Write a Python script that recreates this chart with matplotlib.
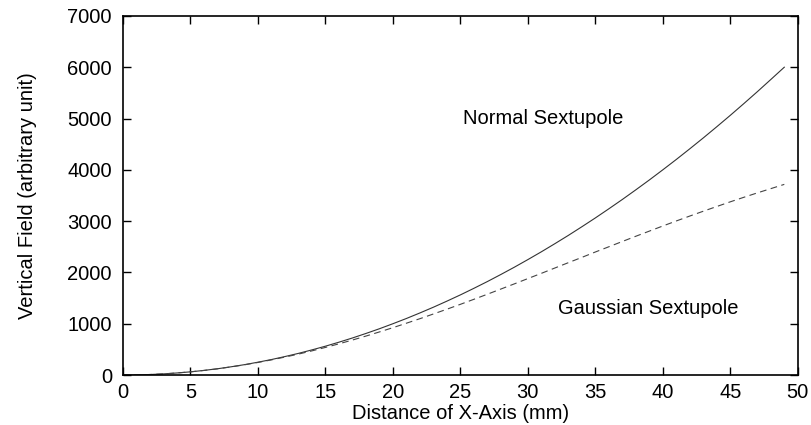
import matplotlib
matplotlib.use('Agg')
import matplotlib.pyplot as plt

plt.rcParams['font.family'] = ['Liberation Sans', 'DejaVu Sans']

# distance along x axis (mm)
x_mm = list(range(0, 50))

# normal sextupole field
normal = [0, 2.5, 10, 22, 40, 62, 90, 122, 160, 202,
          250, 302, 360, 422, 490, 562, 640, 722, 810, 902,
          1000, 1102, 1210, 1322, 1440, 1562, 1690, 1822, 1960, 2102,
          2250, 2402, 2560, 2722, 2890, 3062, 3240, 3422, 3610, 3802,
          4000, 4202, 4410, 4622, 4840, 5062, 5290, 5522, 5760, 6000]

# gaussian sextupole field
gaussian = [0, 2.5, 10, 22, 40, 62, 89, 121, 158, 199,
            245, 295, 350, 408, 471, 538, 608, 682, 759, 840,
            923, 1010, 1098, 1190, 1283, 1378, 1476, 1575, 1676, 1777,
            1880, 1982, 2086, 2190, 2293, 2398, 2500, 2603, 2705, 2805,
            2905, 3003, 3099, 3193, 3285, 3376, 3464, 3550, 3633, 3716]

fs = 14.5

fig = plt.figure(figsize=(8.12, 4.25), dpi=100)
ax = fig.add_axes([0.1515, 0.1176, 0.831, 0.845])

ax.plot(x_mm, normal, color='#333333', lw=0.8)
ax.plot(x_mm, gaussian, color='#444444', lw=0.8, dashes=(6, 4))

ax.text(25.2, 5000, 'Normal Sextupole', fontsize=fs, va='center')
ax.text(32.2, 1300, 'Gaussian Sextupole', fontsize=fs, va='center')

ax.set_xlim(0, 50)
ax.set_ylim(0, 7000)
ax.set_xticks(range(0, 51, 5))
ax.set_yticks(range(0, 7001, 1000))
ax.tick_params(direction='in', top=True, right=True, length=6, width=1,
               labelsize=fs)
ax.tick_params(axis='x', pad=6)
ax.tick_params(axis='y', pad=8)
for s in ax.spines.values():
    s.set_linewidth(1.2)

ax.set_xlabel('Distance of X-Axis (mm)', fontsize=fs, labelpad=1)
ax.set_ylabel('Vertical Field (arbitrary unit)', fontsize=fs)
ax.yaxis.set_label_coords(-0.128, 0.5)

plt.savefig('out.png', dpi=100)
